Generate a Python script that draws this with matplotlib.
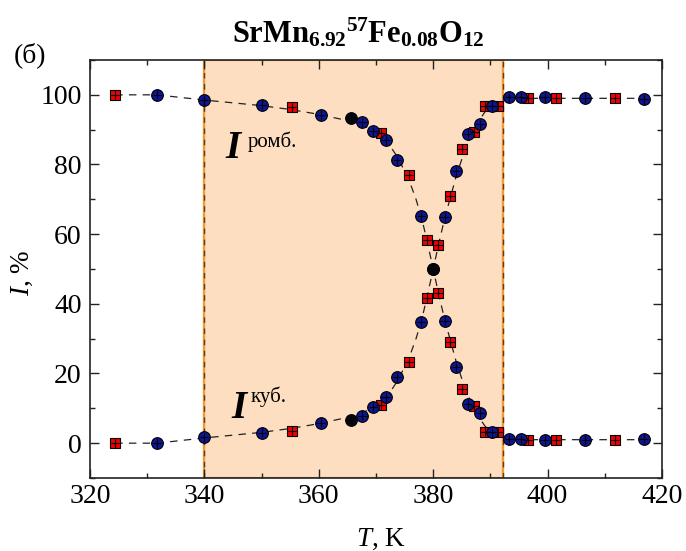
import numpy as np
import matplotlib
matplotlib.use("Agg")
import matplotlib.pyplot as plt
from matplotlib.ticker import MultipleLocator

plt.rcParams['font.family'] = ['Liberation Serif', 'DejaVu Serif']
plt.rcParams['mathtext.fontset'] = 'custom'
plt.rcParams['mathtext.rm'] = 'Liberation Serif'
plt.rcParams['mathtext.it'] = 'Liberation Serif:italic'
plt.rcParams['mathtext.bf'] = 'Liberation Serif:bold'

# --- dane: czerwone kwadraty ---
red_T = [324.4, 355.3, 370.8, 375.8, 378.9, 380.9, 383.0, 385.1, 387.2, 389.1, 391.4, 396.5, 401.5, 411.7]
red_romb = [100.0, 96.4, 89.0, 77.0, 58.3, 43.2, 29.1, 15.5, 10.8, 3.3, 3.1, 1.0, 0.9, 1.0]
red_cub = [0.0, 3.6, 11.0, 23.2, 41.8, 57.0, 71.1, 84.5, 89.3, 96.7, 96.9, 99.1, 99.1, 99.0]

# --- dane: niebieskie kółka ---
blue_T = [331.7, 339.9, 350.1, 360.3, 367.6, 369.5, 371.7, 373.7, 377.9, 382.0, 384.0, 386.1, 388.2,
          390.2, 393.3, 395.3, 399.5, 406.6, 416.8]
blue_romb = [100.0, 98.5, 97.1, 94.3, 92.1, 89.6, 86.9, 81.2, 65.1, 35.1, 21.8, 11.2, 8.8,
             3.1, 1.1, 1.1, 0.9, 1.0, 1.3]
blue_cub = [0.0, 1.7, 3.0, 5.9, 7.9, 10.5, 13.2, 18.9, 34.8, 64.8, 78.1, 88.8, 91.5,
            96.9, 99.3, 99.3, 99.3, 99.1, 98.7]

# --- dane: czarne kółka ---
black_T = [365.6, 379.9]
black_romb = [93.4, 49.9]
black_cub = [6.7, 50.1]

# --- linia przerywana (dopasowanie) ---
fit_T = [324.4, 331.7, 340, 345, 350, 355, 360, 365, 368, 370, 372, 374, 376, 377, 378, 379, 380,
         381, 382, 383, 384, 385, 386, 387, 388, 389, 390, 391, 392.2, 395, 400, 405, 410, 416.8]
fit_romb = [100, 100, 98.5, 97.7, 96.9, 95.8, 94.4, 92.6, 91.0, 89.4, 86.5, 81.5, 74.5, 70, 64.5, 57.5, 50,
            42.5, 35.5, 29.5, 23.5, 18.5, 14, 10.5, 7.5, 5, 3.3, 2.2, 1.5, 1, 1, 1, 1, 1]
fit_cub = [0, 0, 1.5, 2.3, 3.1, 4.2, 5.6, 7.4, 9.0, 10.6, 13.5, 18.5, 25.5, 30, 35.5, 42.5, 50,
           57.5, 64.5, 70.5, 76.5, 81.5, 86, 89.5, 92.5, 95, 96.7, 97.8, 98.5, 99, 99, 99, 99, 99]

span_lo, span_hi = 340, 392.2

fig = plt.figure(figsize=(6.86, 5.51), dpi=100)
ax = fig.add_axes([90/686, 1 - 478/551, 572/686, 418/551])

# zakres przejścia
ax.axvspan(span_lo, span_hi, facecolor='#FDDEC0', edgecolor='#E08A30', lw=1.5, zorder=0)
for xv in (span_lo, span_hi):
    ax.axvline(xv, color='#F59A2A', lw=1.6, zorder=1)
    ax.axvline(xv, color='#5a3c20', lw=1.0, ls=(0, (4, 4)), zorder=1.1)

for y in (fit_romb, fit_cub):
    ax.plot(fit_T, y, color='#222222', lw=0.9, ls=(0, (6, 5)), zorder=2)

for T, yr, yc, m, fc, ms in [(red_T, red_romb, red_cub, 's', '#F00000', 6.8),
                             (blue_T, blue_romb, blue_cub, 'o', '#0E1590', 8.4),
                             (black_T, black_romb, black_cub, 'o', '#050510', 8.4)]:
    for y in (yr, yc):
        ax.plot(T, y, ls='none', marker=m, ms=ms, mfc=fc, mec='black', mew=0.8, zorder=3)
        ax.errorbar(T, y, xerr=0.75, yerr=1.3, fmt='none', ecolor='black', elinewidth=0.8,
                    capsize=0, zorder=4)

ax.set_xlim(320, 420)
ax.set_ylim(-10, 110)
ax.xaxis.set_major_locator(MultipleLocator(20))
ax.xaxis.set_minor_locator(MultipleLocator(10))
ax.yaxis.set_major_locator(MultipleLocator(20))
ax.yaxis.set_minor_locator(MultipleLocator(10))
ax.tick_params(which='both', direction='in', top=True, right=True, width=1.0, color='#222222')
ax.tick_params(which='major', length=6.5, labelsize=20)
ax.tick_params(axis='x', which='major', pad=4)
ax.tick_params(axis='y', which='major', pad=6)
ax.tick_params(which='minor', length=3.5)
for s in ax.spines.values():
    s.set_linewidth(1.2)
    s.set_color('#222222')

# podpisy
ax.text(0.4685, 1 + 18/418, r"$\mathbf{SrMn_{6.92}{}^{57}Fe_{0.08}O_{12}}$", transform=ax.transAxes,
        ha='center', va='baseline', fontsize=22)
fig.text(30/686, 1 - 55/551, "(б)", ha='center', va='center', fontsize=20)
fig.text(381/686, 1 - 546/551, "$T$, K", ha='center', va='baseline', fontsize=19.5)
fig.text(22/686, 1 - 273/551, "$I$, %", ha='center', va='center', rotation=90, fontsize=19.5)

ax.text(343.6, 82.0, "I", fontsize=28, fontweight='bold', style='italic', va='baseline', ha='left')
ax.text(347.6, 85.0, "ромб.", fontsize=15, va='baseline', ha='left')
ax.text(344.8, 7.2, "I", fontsize=28, fontweight='bold', style='italic', va='baseline', ha='left')
ax.text(348.0, 11.9, "куб.", fontsize=15, va='baseline', ha='left')

fig.savefig("out.png", dpi=100)
